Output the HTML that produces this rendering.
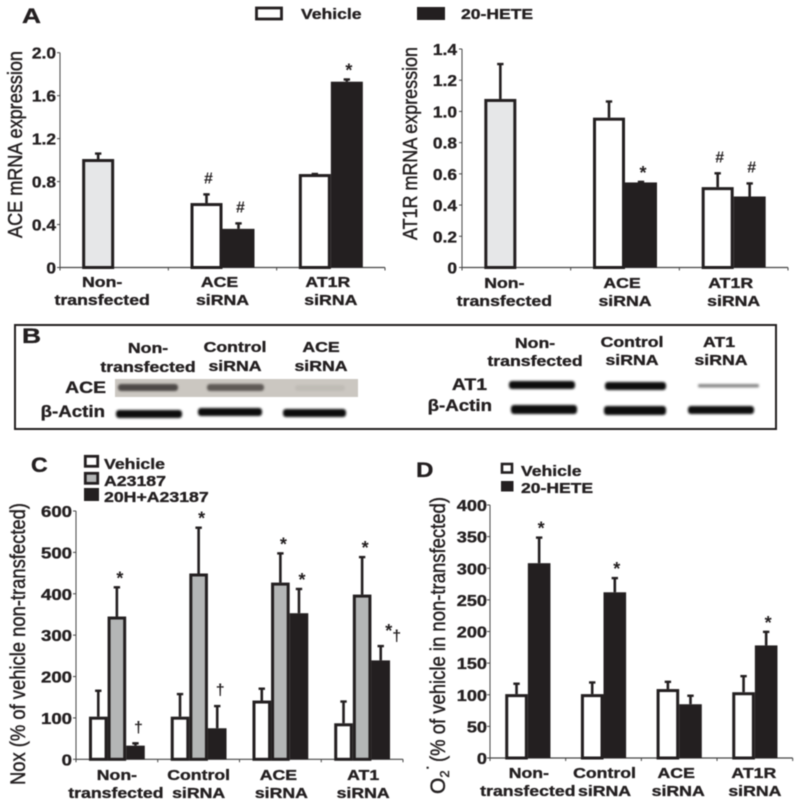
<!DOCTYPE html>
<html>
<head>
<meta charset="utf-8">
<title>20-HETE ACE and AT1R figure</title>
<style>
html,body{margin:0;padding:0;background:#fff;}
#figure{display:block;width:800px;height:805px;filter:blur(.4px);}
text{font-family:"Liberation Sans",Arial,sans-serif;fill:#231f20;}
.b{font-weight:bold;font-size:15px;stroke:#231f20;stroke-width:.35;}
</style>
</head>
<body>
<svg id="figure" xmlns="http://www.w3.org/2000/svg" width="800" height="805" viewBox="0 0 800 805">
  <defs>
    <filter id="blur1" x="-10%" y="-60%" width="120%" height="220%"><feGaussianBlur stdDeviation="1"/></filter>
  </defs>
  <rect width="800" height="805" fill="#fff"/>

  <!-- Panel letters -->
  <text class="b" style="font-size:21px" transform="translate(22,23) scale(1.25,1)">A</text>
  <text class="b" style="font-size:21px" transform="translate(22,343) scale(1.25,1)">B</text>
  <text class="b" style="font-size:21px" transform="translate(31,472) scale(1.1,1)">C</text>
  <text class="b" style="font-size:21px" transform="translate(416,477) scale(1.15,1)">D</text>

  <!-- Top legend -->
  <g>
    <rect x="256.5" y="8" width="25" height="11" fill="#fff" stroke="#231f20" stroke-width="2.8"/>
    <text class="b" transform="translate(301,19) scale(1.17,1)">Vehicle</text>
    <rect x="417" y="7" width="28" height="13" fill="#231f20"/>
    <text class="b" transform="translate(461,19) scale(1.17,1)">20-HETE</text>
  </g>

  <!-- Panel B -->
  <g>
    <rect x="15" y="325" width="761" height="104" fill="none" stroke="#231f20" stroke-width="2"/>
    <rect x="115" y="379" width="243" height="18" fill="#cbc7c1"/>
    <rect x="118" y="384" width="60" height="7" rx="3" fill="#4e4a47" filter="url(#blur1)"/>
    <rect x="207" y="384" width="57" height="7" rx="3" fill="#5f5a56" filter="url(#blur1)"/>
    <rect x="295" y="385" width="50" height="6" rx="3" fill="#c0bcb6" filter="url(#blur1)"/>
    <rect x="116" y="410" width="66" height="8" rx="3" fill="#111" filter="url(#blur1)"/>
    <rect x="198" y="408" width="64" height="8" rx="3" fill="#111" filter="url(#blur1)"/>
    <rect x="283" y="409" width="63" height="8" rx="3" fill="#111" filter="url(#blur1)"/>
    <rect x="509" y="381" width="66" height="8" rx="3" fill="#111" filter="url(#blur1)"/>
    <rect x="605" y="382" width="61" height="8" rx="3" fill="#111" filter="url(#blur1)"/>
    <rect x="698" y="384" width="61" height="3.5" rx="1.5" fill="#8a8a8a" filter="url(#blur1)"/>
    <rect x="511" y="405" width="66" height="9" rx="3" fill="#111" filter="url(#blur1)"/>
    <rect x="604" y="406" width="62" height="9" rx="3" fill="#111" filter="url(#blur1)"/>
    <rect x="688" y="406" width="66" height="8" rx="3" fill="#111" filter="url(#blur1)"/>

    <g class="b" text-anchor="middle">
      <text class="b" transform="translate(148,353) scale(1.18,1)">Non-</text>
      <text class="b" transform="translate(148,372) scale(1.18,1)">transfected</text>
      <text class="b" transform="translate(235,352) scale(1.18,1)">Control</text>
      <text class="b" transform="translate(235,371) scale(1.18,1)">siRNA</text>
      <text class="b" transform="translate(321,352) scale(1.18,1)">ACE</text>
      <text class="b" transform="translate(321,371) scale(1.18,1)">siRNA</text>
      <text class="b" transform="translate(535,348) scale(1.18,1)">Non-</text>
      <text class="b" transform="translate(535,366) scale(1.18,1)">transfected</text>
      <text class="b" transform="translate(632,347) scale(1.18,1)">Control</text>
      <text class="b" transform="translate(632,365) scale(1.18,1)">siRNA</text>
      <text class="b" transform="translate(719,347) scale(1.18,1)">AT1</text>
      <text class="b" transform="translate(721,365) scale(1.18,1)">siRNA</text>
    </g>
    <g text-anchor="end">
      <text class="b" style="font-size:17px" transform="translate(106,393) scale(1.14,1)">ACE</text>
      <text class="b" style="font-size:17px" transform="translate(105,417) scale(1.1,1)">β-Actin</text>
      <text class="b" style="font-size:17px" transform="translate(487,390) scale(1.14,1)">AT1</text>
      <text class="b" style="font-size:17px" transform="translate(492,411) scale(1.1,1)">β-Actin</text>
    </g>
  </g>

  <!-- Panel C legend -->
  <g>
    <rect x="85.3" y="456.3" width="12.4" height="10" fill="#fff" stroke="#231f20" stroke-width="2.8"/>
    <rect x="85.3" y="473.3" width="12.4" height="10" fill="#b4b6b6" stroke="#231f20" stroke-width="2.8"/>
    <rect x="84" y="488" width="15" height="13" fill="#231f20"/>
    <text class="b" transform="translate(104,469) scale(1.18,1)">Vehicle</text>
    <text class="b" transform="translate(104,486) scale(1.18,1)">A23187</text>
    <text class="b" transform="translate(104,502) scale(1.18,1)">20H+A23187</text>
  </g>

  <!-- Panel D legend -->
  <g>
    <rect x="502" y="464" width="10" height="8.5" fill="#fff" stroke="#231f20" stroke-width="2.6"/>
    <rect x="501" y="481" width="12.5" height="10.5" fill="#231f20"/>
    <text class="b" transform="translate(521,476) scale(1.17,1)">Vehicle</text>
    <text class="b" transform="translate(521,493) scale(1.17,1)">20-HETE</text>
  </g>

  <!-- O2 superoxide part of panel D y title -->
  <text transform="translate(445,794) rotate(-90)" style="font-size:21px;stroke:#231f20;stroke-width:.45">O<tspan dy="4" style="font-size:13px">2</tspan><tspan dy="-17" style="font-size:16px">·</tspan></text>

  <g id="charts"></g>
</svg>

<script>
// ---- Panel A (left): ACE mRNA ----
const aceCategories = [["Non-","transfected"],["ACE","siRNA"],["AT1R","siRNA"]];
const aceTickLabels = ["0","0.4","0.8","1.2","1.6","2.0"];
const aceVehicle = [1.01,0.60,0.87];
const aceVehicleErr = [1.07,0.69,0.88];
const aceHete = [null,0.36,1.73];
const aceHeteErr = [null,0.42,1.76];
const aceVehicleMarks = ["","#",""];
const aceHeteMarks = ["","#","*"];

// ---- Panel A (right): AT1R mRNA ----
const at1Categories = [["Non-","transfected"],["ACE","siRNA"],["AT1R","siRNA"]];
const at1TickLabels = ["0","0.2","0.4","0.6","0.8","1.0","1.2","1.4"];
const at1Vehicle = [1.08,0.96,0.515];
const at1VehicleErr = [1.31,1.07,0.61];
const at1Hete = [null,0.545,0.455];
const at1HeteErr = [null,0.555,0.545];
const at1VehicleMarks = ["","","#"];
const at1HeteMarks = ["","*","#"];

// ---- Panel C: Nox ----
const noxCategories = [["Non-","transfected"],["Control","siRNA"],["ACE","siRNA"],["AT1","siRNA"]];
const noxTickLabels = ["0","100","200","300","400","500","600"];
const noxVehicle = [103,103,142,87];
const noxVehicleErr = [168,160,173,142];
const noxA23187 = [345,449,427,398];
const noxA23187Err = [418,562,500,491];
const noxCombo = [33,75,353,239];
const noxComboErr = [41,131,414,276];
const noxA23187Marks = ["*","*","*","*"];
const noxComboMarks = ["†","†","*","*†"];

// ---- Panel D: superoxide ----
const o2Categories = [["Non-","transfected"],["Control","siRNA"],["ACE","siRNA"],["AT1R","siRNA"]];
const o2TickLabels = ["0","50","100","150","200","250","300","350","400"];
const o2Vehicle = [101,101,109,104];
const o2VehicleErr = [119,121,122,131];
const o2Hete = [308,262,85,178];
const o2HeteErr = [350,286,100,201];
const o2HeteMarks = ["*","*","","*"];

const INK = "#231f20";
const SVGNS = "http://www.w3.org/2000/svg";
const root = document.getElementById("charts");

function el(parent, tag, attrs) {
  const n = document.createElementNS(SVGNS, tag);
  for (const k in attrs) n.setAttribute(k, attrs[k]);
  parent.appendChild(n);
  return n;
}

function label(parent, str, x, y, anchor, size, sx) {
  const t = el(parent, "text", {
    "text-anchor": anchor,
    "transform": "translate(" + x + "," + y + ") scale(" + sx + ",1)",
    "style": "font-weight:bold;stroke:#231f20;stroke-width:.35;font-size:" + size + "px"
  });
  t.textContent = str;
  return t;
}

function drawPanel(p) {
  const g = el(root, "g", {});
  
  

  const maxVal = Number(p.ticks[p.ticks.length - 1]);
  const yScale = v => p.y0 - (v / maxVal) * (p.y0 - p.yTop);
  const band = (p.x1 - p.x0) / p.categories.length;
  const groupCenter = i => p.x0 + (i + 0.5) * band;
  const n = p.series.length;
  const barLeft = (i, s) => groupCenter(i) + (s - n / 2) * p.barWidth;

  // axes
  const yAxis = el(g, "line", {x1:p.x0, x2:p.x0, y1:p.yTop, y2:p.y0, stroke:"#444", "stroke-width":1});
  
  
  const xAxis = el(g, "line", {x1:p.x0, x2:p.x1, y1:p.y0, y2:p.y0, stroke:"#444", "stroke-width":1.2});
  
  

  // y ticks
  p.ticks.forEach(function (lab) {
    const v = Number(lab);
    const y = yScale(v);
    const tick = el(g, "line", {x1:p.x0 - 3, x2:p.x0, y1:y, y2:y, stroke:"#444", "stroke-width":1});
    
    
    const t = label(g, lab, p.x0 - p.tickGap, y + p.tickDy, "end", 15.5, p.tickSx);
    
    
  });

  // x ticks
  for (let i = 0; i <= p.categories.length; i++) {
    const x = p.x0 + i * band;
    const tick = el(g, "line", {x1:x, x2:x, y1:p.y0, y2:p.y0 + 3, stroke:"#444", "stroke-width":1});
    
    
  }

  // category labels
  p.categories.forEach(function (lines, i) {
    const off = p.labelDx[i];
    lines.forEach(function (line, k) {
      const t = label(g, line, groupCenter(i) + off[k], p.labelY[k], "middle", 15, 1.18);
      
      
    });
  });

  // bars
  p.series.forEach(function (s, si) {
    s.values.forEach(function (v, i) {
      if (v === null) return;
      const left = barLeft(i, si);
      const top = yScale(v);
      const sw = s.stroke ? 3 : 0;
      const errTop = yScale(s.errors[i]);
      const cx = left + p.barWidth / 2;

      const err = el(g, "line", {x1:cx, x2:cx, y1:top, y2:errTop, stroke:INK, "stroke-width":2.6});
      
      
      const cap = el(g, "line", {x1:cx - 3.2, x2:cx + 3.2, y1:errTop + 1, y2:errTop + 1, stroke:INK, "stroke-width":2.4});
      
      

      const fill = (p.firstFill && i === 0 && si === 0) ? p.firstFill : s.fill;
      const bar = el(g, "rect", {
        x: left + sw / 2,
        y: top + sw / 2,
        width: p.barWidth - sw,
        height: Math.max(0, p.y0 - top - sw / 2),
        fill: fill,
        stroke: s.stroke ? INK : "none",
        "stroke-width": sw
      });
      
      

      const mark = s.marks ? s.marks[i] : "";
      if (mark) {
        Array.from(mark).forEach(function (ch, k) {
          const isStar = ch === "*";
          const dy = isStar ? 2 : 10;
          const t = el(g, "text", {
            x: cx + p.markDx + (mark.length > 1 ? (k === 0 ? 5 : 13) : 0),
            y: errTop - dy + (mark.length > 1 ? (k === 0 ? -6 : 6) : 0),
            "text-anchor": "middle",
            style: "font-size:" + (isStar ? 18 : 16) + "px;font-weight:bold"
          });
          t.textContent = ch;
          
          
        });
      }
    });
  });

  // y title
  const title = el(g, "text", {
    transform: "translate(" + p.titleX + "," + p.titleY + ") rotate(-90)",
    textLength: p.titleLen,
    lengthAdjust: "spacingAndGlyphs",
    style: "font-size:" + p.titleSize + "px;stroke:#231f20;stroke-width:.45"
  });
  title.textContent = p.title;
  
  
}

drawPanel({
  name:"ace-mrna-chart", categories:aceCategories, ticks:aceTickLabels,
  x0:60, x1:385, y0:267.5, yTop:52.7, barWidth:32, firstFill:"#e6e7e8",
  tickGap:4, tickDy:6, tickSx:1.12, markDx:2,
  labelDx:[[-12,-12],[-3,0],[-3,0]], labelY:[287,305],
  title:"ACE mRNA expression", titleX:22, titleY:238, titleLen:187, titleSize:20.5,
  series:[
    {key:"vehicle", values:aceVehicle, errors:aceVehicleErr, marks:aceVehicleMarks, fill:"#fff", stroke:true},
    {key:"20-hete", values:aceHete, errors:aceHeteErr, marks:aceHeteMarks, fill:INK, stroke:false}
  ]
});

drawPanel({
  name:"at1r-mrna-chart", categories:at1Categories, ticks:at1TickLabels,
  x0:462, x1:788, y0:267.5, yTop:49, barWidth:32, firstFill:"#e6e7e8",
  tickGap:5, tickDy:6, tickSx:1.12, markDx:2,
  labelDx:[[-12,-12],[-3,0],[-3,0]], labelY:[288,306],
  title:"AT1R mRNA expression", titleX:417, titleY:240, titleLen:193, titleSize:20.5,
  series:[
    {key:"vehicle", values:at1Vehicle, errors:at1VehicleErr, marks:at1VehicleMarks, fill:"#fff", stroke:true},
    {key:"20-hete", values:at1Hete, errors:at1HeteErr, marks:at1HeteMarks, fill:INK, stroke:false}
  ]
});

drawPanel({
  name:"nox-chart", categories:noxCategories, ticks:noxTickLabels,
  x0:76, x1:403, y0:759.3, yTop:511, barWidth:18.6,
  tickGap:4, tickDy:6, tickSx:1.2, markDx:3,
  labelDx:[[0,-1],[0,0],[-2,1],[1,1]], labelY:[780,798],
  title:"Nox (% of vehicle non-transfected)", titleX:25, titleY:785, titleLen:282, titleSize:21,
  series:[
    {key:"vehicle", values:noxVehicle, errors:noxVehicleErr, fill:"#fff", stroke:true},
    {key:"a23187", values:noxA23187, errors:noxA23187Err, marks:noxA23187Marks, fill:"#b4b6b6", stroke:true},
    {key:"20h-a23187", values:noxCombo, errors:noxComboErr, marks:noxComboMarks, fill:INK, stroke:false}
  ]
});

drawPanel({
  name:"superoxide-chart", categories:o2Categories, ticks:o2TickLabels,
  x0:490, x1:792.7, y0:758, yTop:505, barWidth:22.6,
  tickGap:3, tickDy:6, tickSx:1.17, markDx:2,
  labelDx:[[1,0],[1,1],[-3,-1],[-1,0]], labelY:[778,796],
  title:"(% of vehicle in non-transfected)", titleX:445, titleY:762, titleLen:265, titleSize:21,
  series:[
    {key:"vehicle", values:o2Vehicle, errors:o2VehicleErr, fill:"#fff", stroke:true},
    {key:"20-hete", values:o2Hete, errors:o2HeteErr, marks:o2HeteMarks, fill:INK, stroke:false}
  ]
});
</script>
</body>
</html>
